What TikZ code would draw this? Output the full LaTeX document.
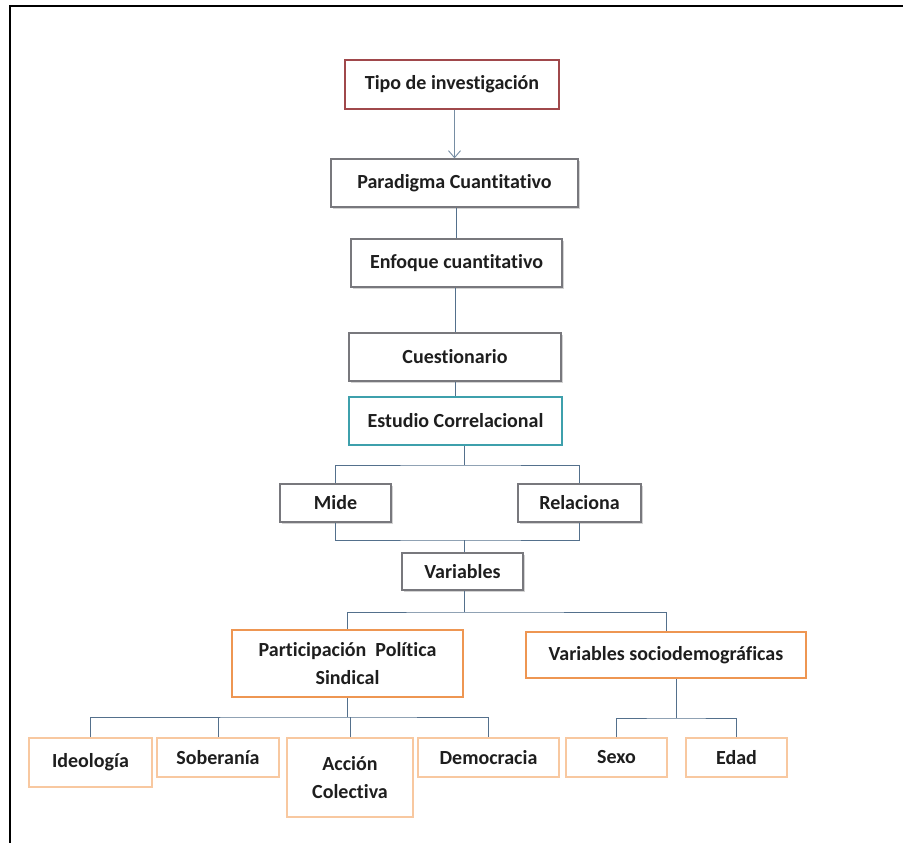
\documentclass[tikz,border=0pt]{standalone}
\usepackage{fontspec}
\setmainfont{Carlito}[Ligatures=NoCommon]
\usetikzlibrary{arrows.meta,shadows}
\definecolor{tipored}{RGB}{160,72,75}
\definecolor{tealline}{RGB}{62,160,172}
\definecolor{boxgray}{RGB}{120,120,125}
\definecolor{orangestrong}{RGB}{238,150,82}
\definecolor{orangelight}{RGB}{248,200,160}
\definecolor{connblue}{RGB}{84,112,140}
\definecolor{textgray}{RGB}{30,30,30}

\begin{document}
\begin{tikzpicture}[x=1pt, y=-1pt,
  every node/.style={align=center, inner sep=0pt, fill=white,
                     font=\fontsize{20}{28}\selectfont\bfseries, text=textgray},
  graybox/.style={draw=boxgray, line width=1.3pt,
                  drop shadow={shadow xshift=1.6pt, shadow yshift=-1.6pt, opacity=0.35}},
  redbox/.style={draw=tipored, line width=1.8pt},
  tealbox/.style={draw=tealline, line width=1.8pt},
  mainvar/.style={draw=orangestrong, line width=2.2pt},
  subvar/.style={draw=orangelight, line width=1.8pt},
  conn/.style={draw=connblue, line width=0.9pt},
  arrowline/.style={draw=connblue!80!white, line width=0.9pt,
                    -{Straight Barb[length=7pt, width=12pt]}}
]
\useasboundingbox (0,0) rectangle (903,843);
% frame of the screenshot
\draw[line width=2pt] (10,843) -- (10,6) -- (903,6);

% main chain
\node[redbox,  minimum width=214, minimum height=49] (tipo) at (452,84.5)  {Tipo de investigación};
\node[graybox, minimum width=247, minimum height=48] (par)  at (454.5,183) {Paradigma Cuantitativo};
\node[graybox, minimum width=211, minimum height=48] (enf)  at (456.5,263) {Enfoque cuantitativo};
\node[graybox, minimum width=212, minimum height=48] (cue)  at (455,357)   {Cuestionario};
\node[tealbox, minimum width=213, minimum height=48] (ec)   at (455.5,421) {Estudio Correlacional};
\node[graybox, minimum width=111, minimum height=38] (mide) at (335.5,503) {Mide};
\node[graybox, minimum width=123, minimum height=38] (rel)  at (579.5,503) {Relaciona};
\node[graybox, minimum width=121, minimum height=37] (var)  at (462.5,571.5) {Variables};

% variables
\node[mainvar, minimum width=231, minimum height=67] (ppp) at (347.5,663.5) {Participación \ Política\\Sindical};
\node[mainvar, minimum width=280, minimum height=46] (vs)  at (666,655) {Variables sociodemográficas};
\node[subvar, minimum width=123, minimum height=49] (ideo) at (90.5,762.5) {Ideología};
\node[subvar, minimum width=122, minimum height=39] (sob)  at (218,757.5)  {Soberanía};
\node[subvar, minimum width=126, minimum height=79] (acc)  at (350,777.5)  {Acción\\Colectiva};
\node[subvar, minimum width=141, minimum height=39] (dem)  at (488.5,757.5) {Democracia};
\node[subvar, minimum width=101, minimum height=39] (sexo) at (616.5,757.5) {Sexo};
\node[subvar, minimum width=101, minimum height=39] (edad) at (736.5,757.5) {Edad};

% bus points
\coordinate (b1) at (464,465);
\coordinate (b2) at (464,540);
\coordinate (b3) at (464,612);
\coordinate (b4) at (347,717);
\coordinate (b5) at (676,718);

% connectors
\draw[arrowline] (tipo.south -| par.north) -- (par.north);
\draw[conn] (par.south -| enf.north) -- (enf.north);
\draw[conn] (enf.south -| cue.north) -- (cue.north);
\draw[conn] (cue.south) -- (ec.north -| cue.south);
\draw[conn] (ec.south -| b1) -- (b1);
\draw[conn] (mide.north) |- (b1) -| (rel.north);
\draw[conn] (mide.south) |- (b2) -| (rel.south);
\draw[conn] (b2) -- (var.north -| b2);
\draw[conn] (var.south -| b3) -- (b3);
\draw[conn] (ppp.north) |- (b3) -| (vs.north);
\draw[conn] (ppp.south -| b4) -- (b4);
\draw[conn] (ideo.north) |- (b4) -| (dem.north);
\draw[conn] (sob.north) -- (sob.north |- b4);
\draw[conn] (acc.north) -- (acc.north |- b4);
\draw[conn] (vs.south -| b5) -- (b5);
\draw[conn] (sexo.north) |- (b5) -| (edad.north);
\end{tikzpicture}
\end{document}
